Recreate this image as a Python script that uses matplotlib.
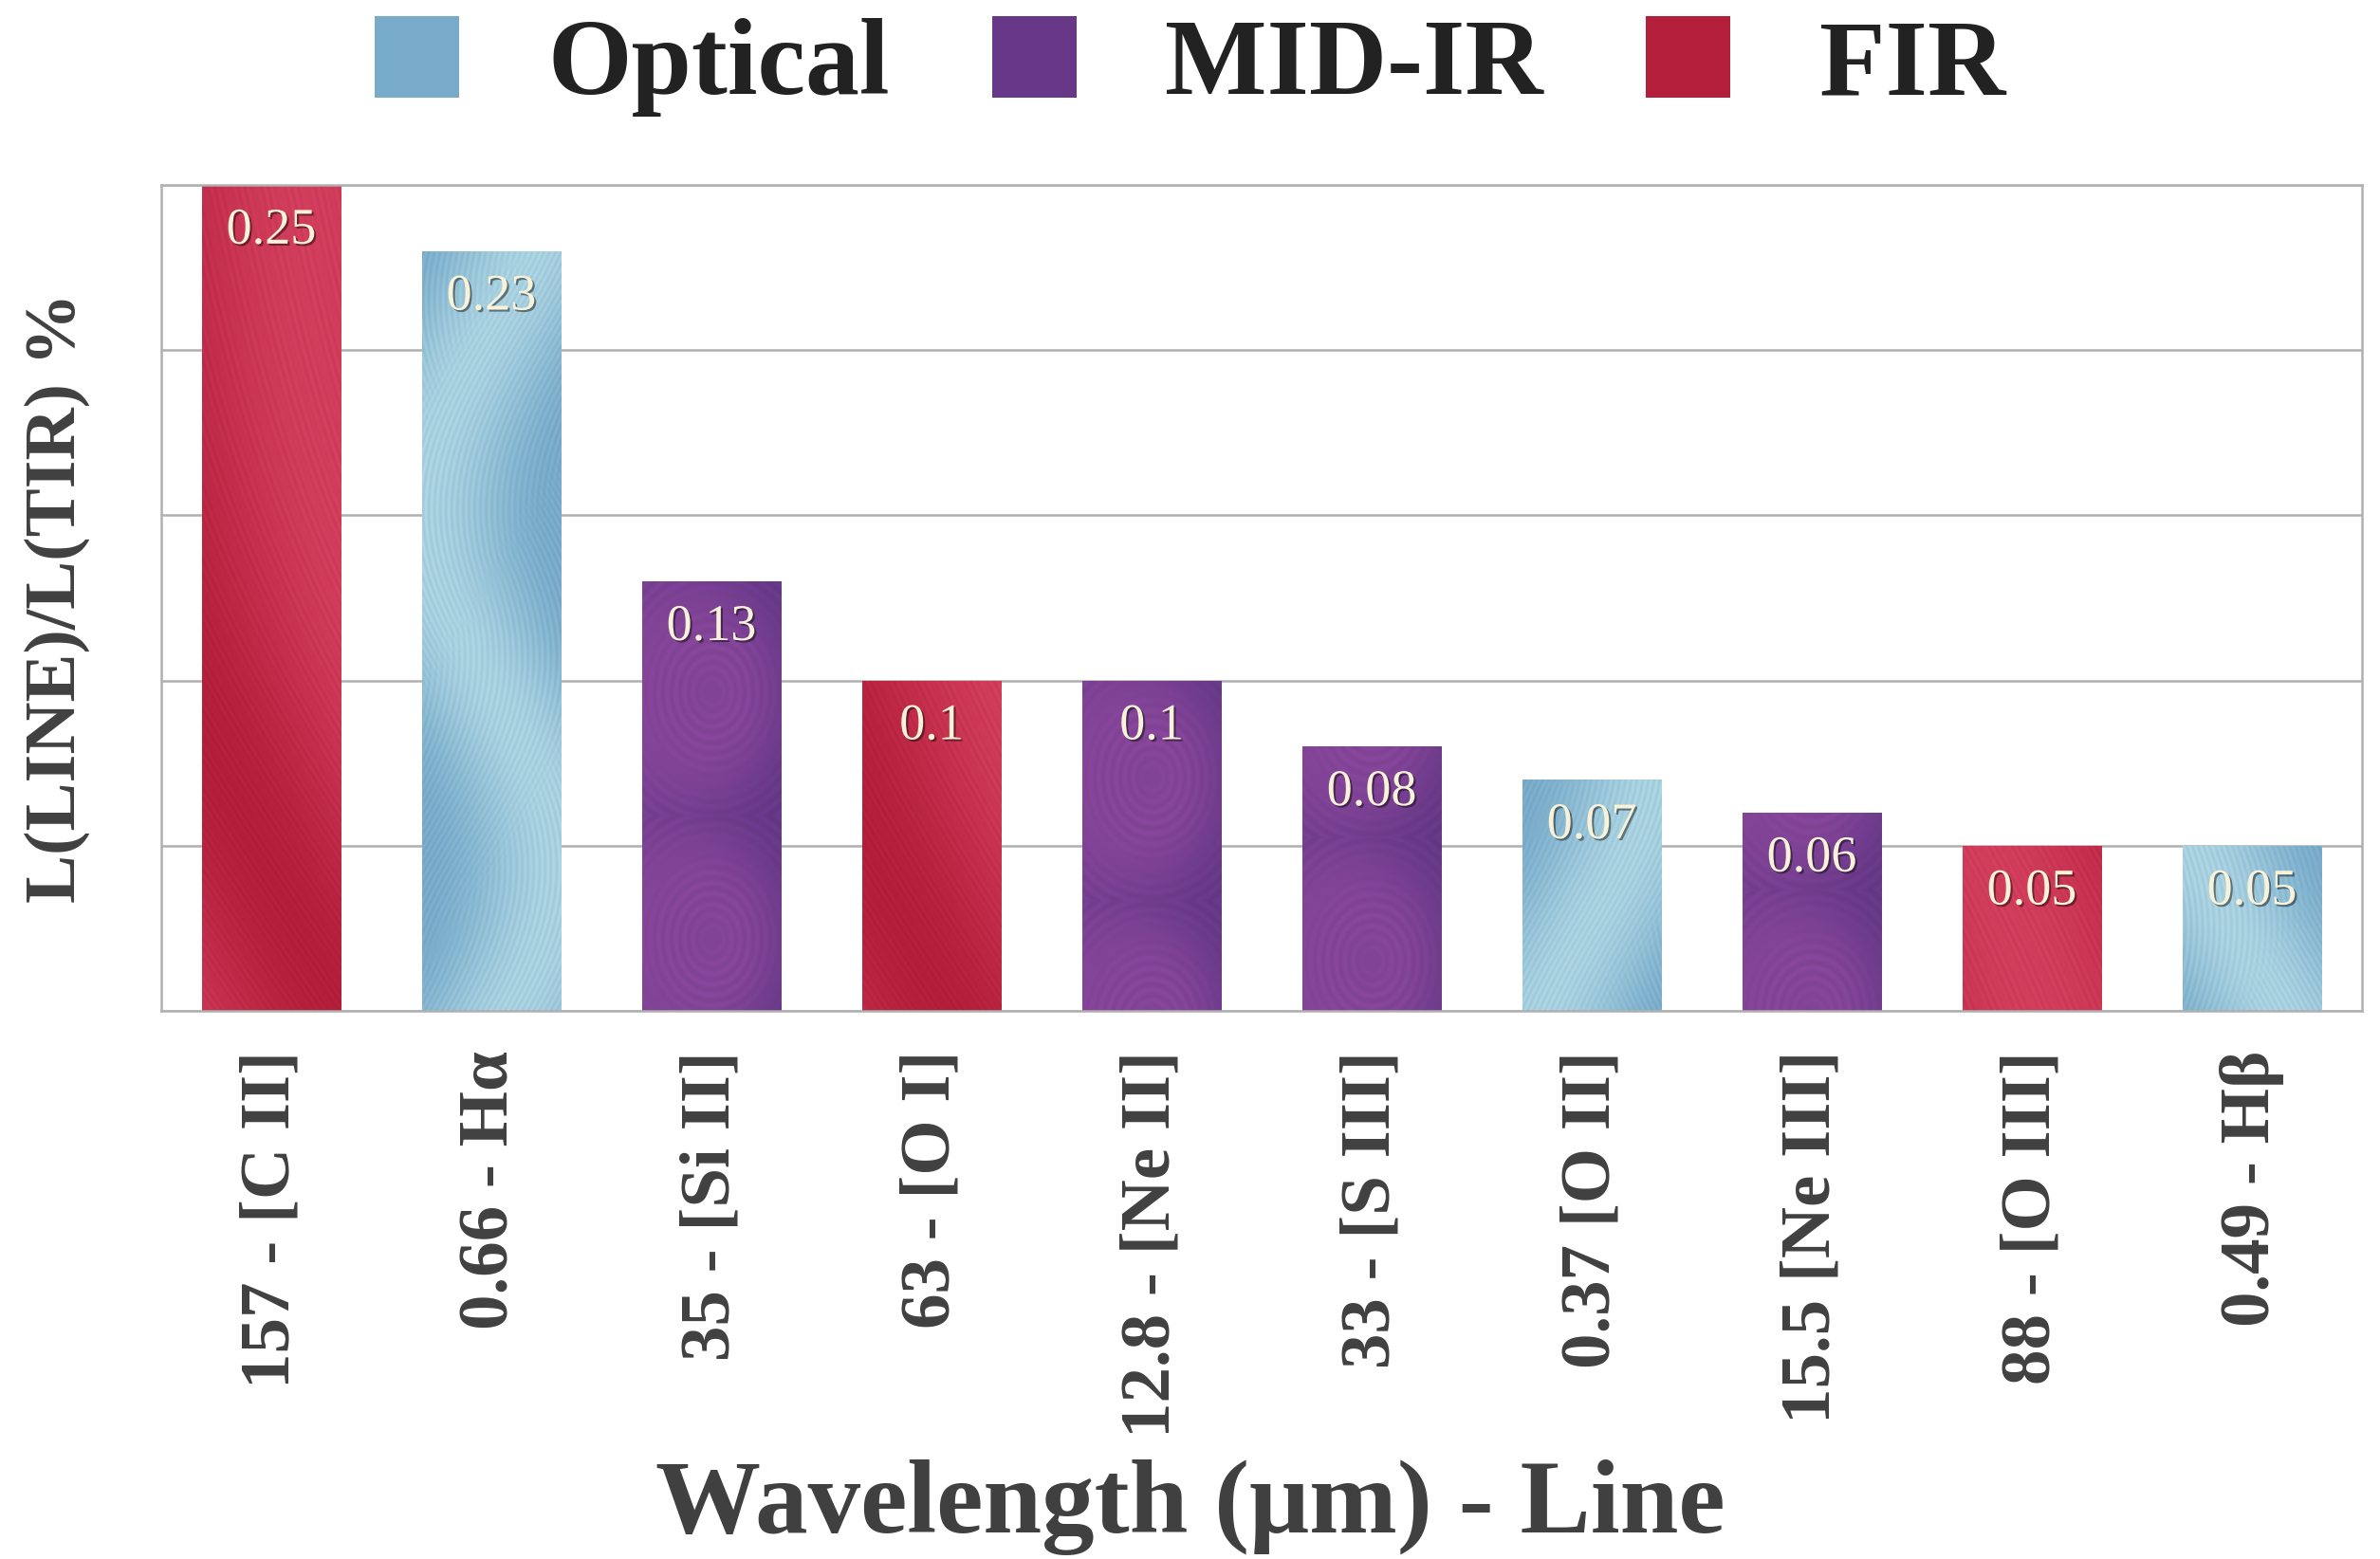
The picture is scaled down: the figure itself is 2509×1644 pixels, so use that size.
import numpy as np
import matplotlib
matplotlib.use("Agg")
import matplotlib.pyplot as plt
from matplotlib.patches import Patch
import matplotlib.patheffects as pe

# Line luminosity as a fraction of total IR luminosity
lines = ['157 - [C II]', '0.66 - Hα', '35 - [Si II]', '63 - [O I]', '12.8 - [Ne II]',
         '33 - [S III]', '0.37 [O II]', '15.5 [Ne III]', '88 - [O III]', '0.49 - Hβ']
ratios = [0.25, 0.23, 0.13, 0.1, 0.1, 0.08, 0.07, 0.06, 0.05, 0.05]
bands = ['FIR', 'Optical', 'MID-IR', 'FIR', 'MID-IR', 'MID-IR', 'Optical', 'MID-IR', 'FIR', 'Optical']
band_order = ['Optical', 'MID-IR', 'FIR']

palette = {
    'Optical': ((0.47, 0.67, 0.79), (0.66, 0.82, 0.88)),
    'MID-IR': ((0.40, 0.22, 0.53), (0.52, 0.27, 0.60)),
    'FIR': ((0.70, 0.12, 0.23), (0.82, 0.24, 0.36)),
}

SERIF = ['Liberation Serif', 'DejaVu Serif']
TXT = '#404040'


def brush_texture(band, w_px, h_px, seed_shift):
    """Procedural painted-stroke texture for a bar of w_px x h_px pixels."""
    yy, xx = np.mgrid[0:h_px, 0:w_px].astype(float)
    yy = yy + seed_shift * 137.0
    dark, light = (np.array(c) for c in palette[band])
    if band == 'FIR':
        u = xx - 0.45 * yy + 60 * np.sin(yy / 260.0)
        streak = 0.6 * np.sin(u * 2 * np.pi / 7.0) * np.sin(u * 2 * np.pi / 53.0)
        tone = 0.5 + 0.5 * np.sin(u / 70.0 + yy / 400.0)
    elif band == 'Optical':
        u1 = xx + 70 * np.sin(yy / 120.0)
        u2 = xx - 70 * np.sin(yy / 120.0 + 1.3)
        mask = 0.5 + 0.5 * np.tanh(3 * np.sin(yy / 95.0 + xx / 60.0))
        s1 = np.sin(u1 * 2 * np.pi / 6.0)
        s2 = np.sin(u2 * 2 * np.pi / 6.0)
        streak = 0.5 * (mask * s1 + (1 - mask) * s2)
        tone = 0.5 + 0.5 * np.sin(u2 / 45.0)
    else:
        cy = (yy // 260) * 260 + 130
        r = np.hypot(xx - 0.5 * w_px, (yy - cy) * 0.8)
        streak = 0.5 * np.sin(r * 2 * np.pi / 9.0) * np.sin(r / 25.0)
        tone = 0.5 + 0.5 * np.sin(r / 40.0 + xx / 90.0)
    base = dark[None, None, :] * (1 - tone[..., None]) + light[None, None, :] * tone[..., None]
    img = base * (1 + 0.07 * streak[..., None])
    return np.clip(img, 0, 1)


fig = plt.figure(figsize=(25.09, 16.44), dpi=100)
ax = fig.add_axes([170 / 2509, 1 - 1066 / 1644, (2490 - 170) / 2509, (1066 - 195) / 1644])

x = np.arange(len(lines))
width = 0.63
bars = ax.bar(x, ratios, width=width, color=[palette[b][0] for b in bands],
              edgecolor='none', zorder=2)

ymax = 0.25
ax_h_px = 1066 - 195
ax_w_px = 2490 - 170
for i, (bar, band, v) in enumerate(zip(bars, bands, ratios)):
    w_px = int(width / 10 * ax_w_px)
    h_px = max(int(v / ymax * ax_h_px), 2)
    tex = brush_texture(band, w_px, h_px, i)
    im = ax.imshow(tex, extent=(bar.get_x(), bar.get_x() + width, 0, v),
                   aspect='auto', zorder=2.5, interpolation='bilinear', origin='upper')
    im.set_clip_path(bar)
    ax.annotate(f'{v:g}', (i, v), xytext=(0, -35), textcoords='offset points',
                ha='center', va='center', fontsize=39, color='#f8f2d8',
                family=SERIF, zorder=4,
                path_effects=[pe.withSimplePatchShadow(offset=(1.5, -1.5), shadow_rgbFace='k', alpha=0.45)])

ax.set_xlim(-0.5, len(lines) - 0.5)
ax.set_ylim(0, ymax)
ax.set_yticks(np.arange(0, 0.2501, 0.05))
ax.set_yticklabels([])
ax.tick_params(axis='y', length=0)
ax.grid(axis='y', color='#b0b0b0', lw=1.8, zorder=0)
ax.set_axisbelow(True)
for s in ax.spines.values():
    s.set_color('#b0b0b0')
    s.set_linewidth(1.8)

ax.set_xticks(x)
ax.set_xticklabels(lines, rotation=90, fontsize=54, fontweight='bold', color=TXT, family=SERIF)
ax.tick_params(axis='x', length=0, pad=30)

fig.text(0.5, 1 - 1616 / 1644, 'Wavelength (μm) - Line', ha='center', va='baseline',
         fontsize=80, fontweight='bold', color=TXT, family=SERIF)
fig.text(60 / 2509, 1 - 630 / 1644, 'L(LINE)/L(TIR) %', rotation=90, ha='center', va='center',
         fontsize=55, fontweight='bold', color=TXT, family=SERIF)

handles = [Patch(facecolor=palette[b][0], edgecolor='none', label=b) for b in band_order]
leg = fig.legend(handles=handles, loc='upper center', bbox_to_anchor=(0.5, 1 + 40 / 1644),
                 ncol=3, frameon=False, borderpad=0, handlelength=0.78, handleheight=0.78,
                 handletextpad=0.82, columnspacing=0.95,
                 prop={'family': SERIF, 'weight': 'bold', 'size': 82})
for t in leg.get_texts():
    t.set_color('#222222')

fig.savefig('out.png', dpi=100)
